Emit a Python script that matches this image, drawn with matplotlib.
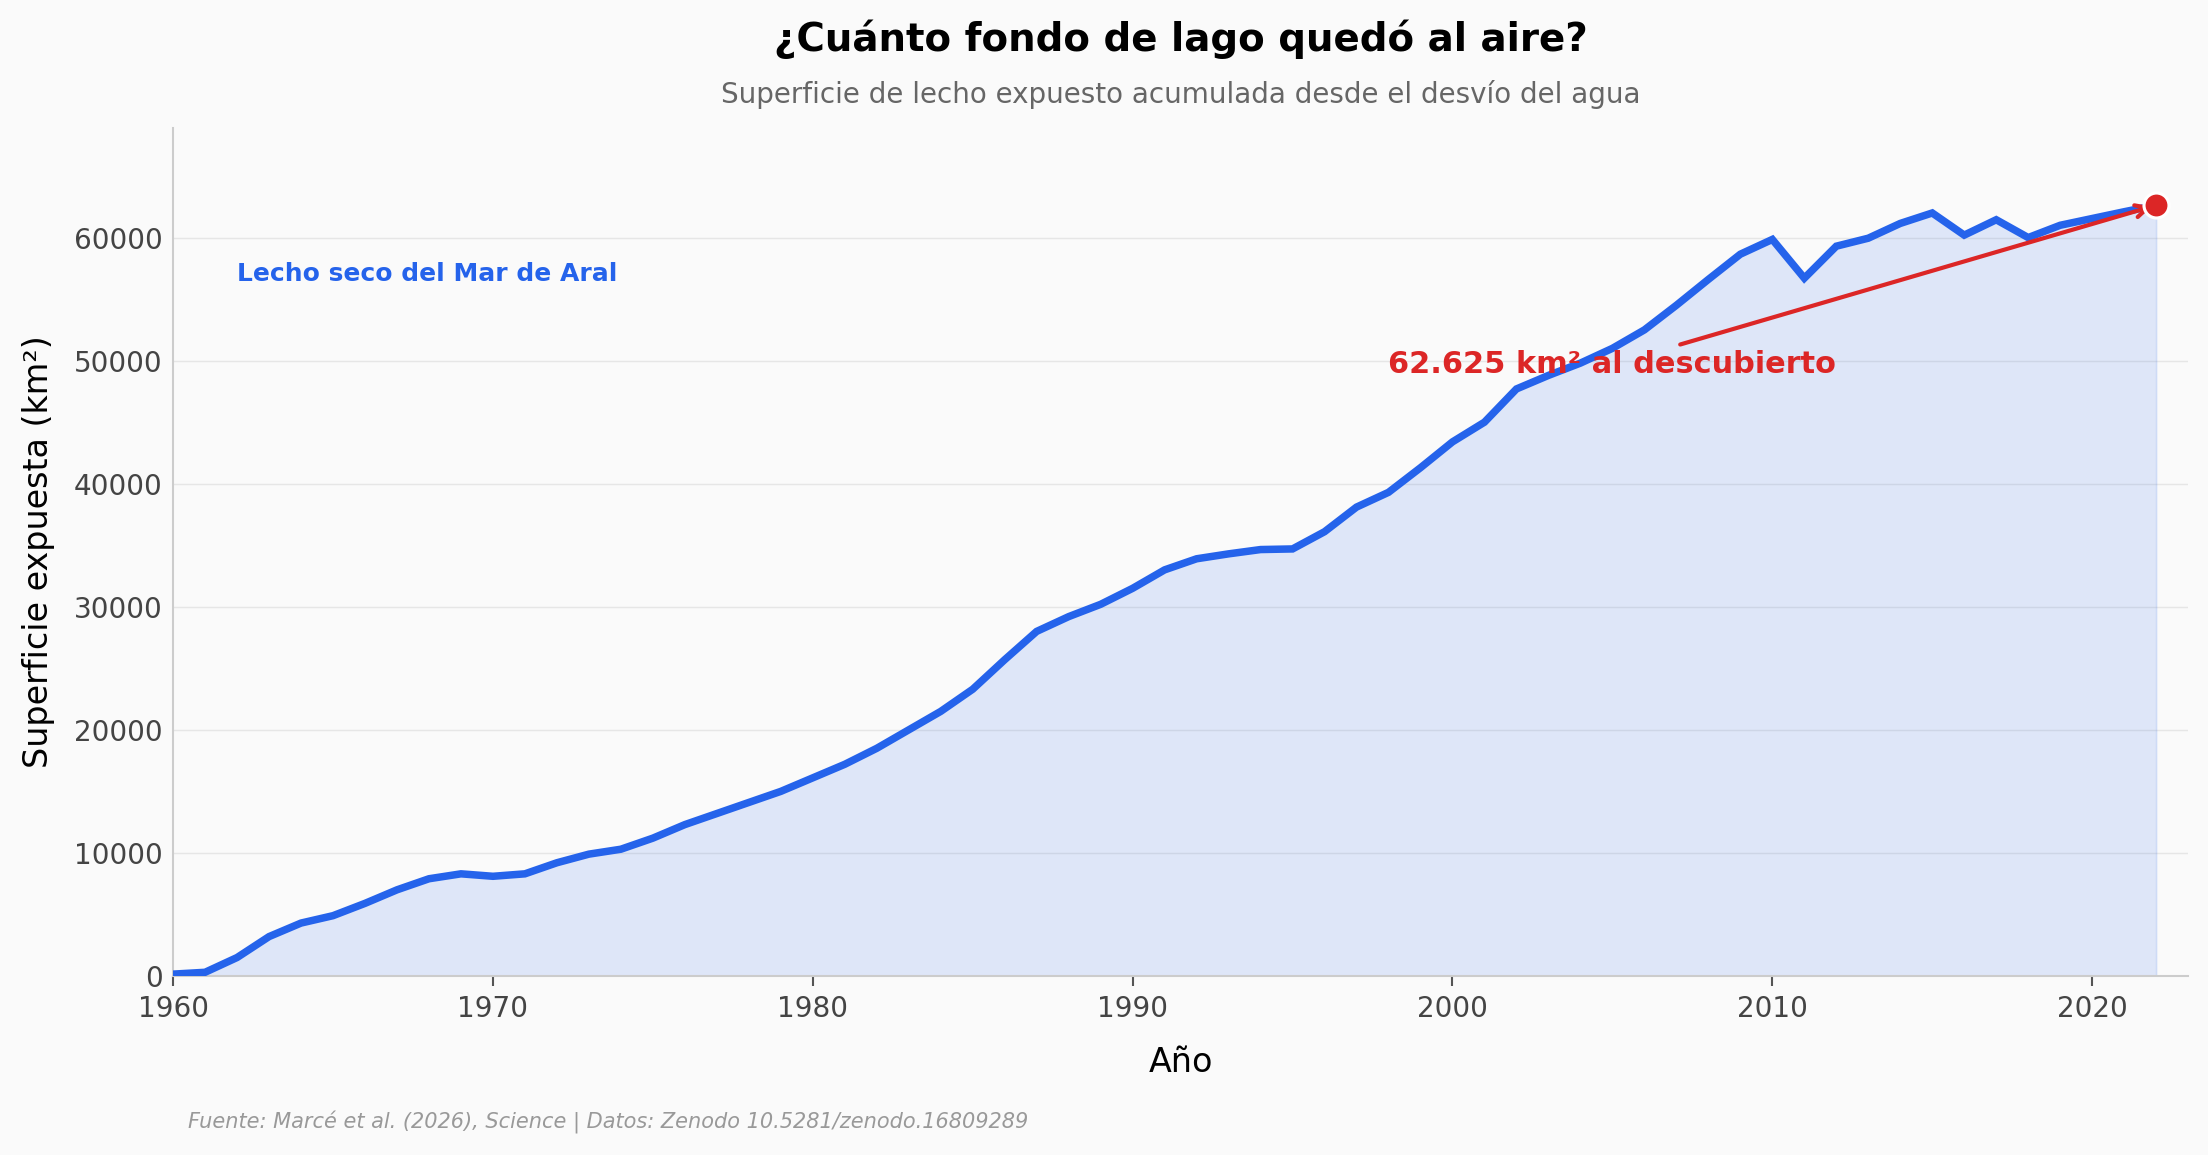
import matplotlib
matplotlib.use("Agg")
import matplotlib.pyplot as plt
import numpy as np

# Data
years = list(range(1960, 2023))
area_km2 = [
    150, 300, 1500, 3200, 4300, 4900, 5900, 7000, 7900, 8300,
    8100, 8300, 9200, 9900, 10300, 11200, 12300, 13200, 14100, 15000,
    16100, 17200, 18500, 20000, 21500, 23300, 25700, 28000, 29200, 30200,
    31500, 33000, 33900, 34300, 34650, 34700, 36100, 38100, 39300, 41300,
    43400, 45000, 47700, 48800, 49800, 51000, 52500, 54500, 56600, 58650,
    59850, 56700, 59300, 59950, 61150, 62000, 60200, 61450, 60000, 61000,
    61550, 62100, 62625,
]
final_label = "62.625 km² al descubierto"
series_label = "Lecho seco del Mar de Aral"
xticks = [1960, 1970, 1980, 1990, 2000, 2010, 2020]

blue = "#2563EB"
red = "#DC2626"
bg = "#FAFAFA"

fig = plt.figure(figsize=(14.72, 7.7), dpi=150, facecolor=bg)
ax = fig.add_axes([0.0784, 0.155, 0.9126, 0.734])
ax.set_facecolor(bg)

x = np.array(years)
y = np.array(area_km2)

# area + line
ax.fill_between(x, y, 0, color=blue, alpha=0.13, linewidth=0.8, zorder=2)
ax.plot(x, y, color=blue, lw=3.6, zorder=3, solid_joinstyle="miter")

# end point
ax.plot(x[-1], y[-1], "o", color=red, markersize=12, markeredgecolor="white",
        markeredgewidth=1.5, zorder=5)

ax.annotate(final_label, xy=(x[-1], y[-1]), xytext=(2005, 49700),
            ha="center", va="center", fontsize=14.6, fontweight="bold", color=red,
            arrowprops=dict(arrowstyle="->", color=red, lw=2), zorder=4)

ax.text(1962, 57000, series_label, fontsize=12, fontweight="bold", color=blue,
        ha="left", va="center")

ax.set_xlim(1960, 2023)
ax.set_ylim(0, y[-1] * 1.1)
ax.set_xticks(xticks)
ax.set_yticks(np.arange(0, 60001, 10000))

ax.grid(axis="y", color="#E6E6E6", lw=0.7, zorder=0)
ax.set_axisbelow(True)
for s in ["top", "right"]:
    ax.spines[s].set_visible(False)
for s in ["left", "bottom"]:
    ax.spines[s].set_color("#CCCCCC")
    ax.spines[s].set_linewidth(1.0)

ax.tick_params(axis="x", colors="#555555", labelsize=13.4, length=5, width=1, pad=4)
ax.tick_params(axis="y", colors="#555555", labelsize=13.4, length=0, pad=5)
for lbl in ax.get_xticklabels() + ax.get_yticklabels():
    lbl.set_color("#444444")

ax.set_xlabel("Año", fontsize=16, labelpad=11)
ax.set_ylabel("Superficie expuesta (km²)", fontsize=16, labelpad=9)

cx = 0.0784 + 0.9126 / 2
fig.text(cx, 0.966, "¿Cuánto fondo de lago quedó al aire?", ha="center", va="center",
         fontsize=18.6, fontweight="bold", color="black")
fig.text(cx, 0.918, "Superficie de lecho expuesto acumulada desde el desvío del agua",
         ha="center", va="center", fontsize=13.35, color="#666666")
fig.text(0.085, 0.028, "Fuente: Marcé et al. (2026), Science | Datos: Zenodo 10.5281/zenodo.16809289",
         ha="left", va="center", fontsize=10, style="italic", color="#999999")

fig.savefig("out.png", dpi=150, facecolor=bg)
